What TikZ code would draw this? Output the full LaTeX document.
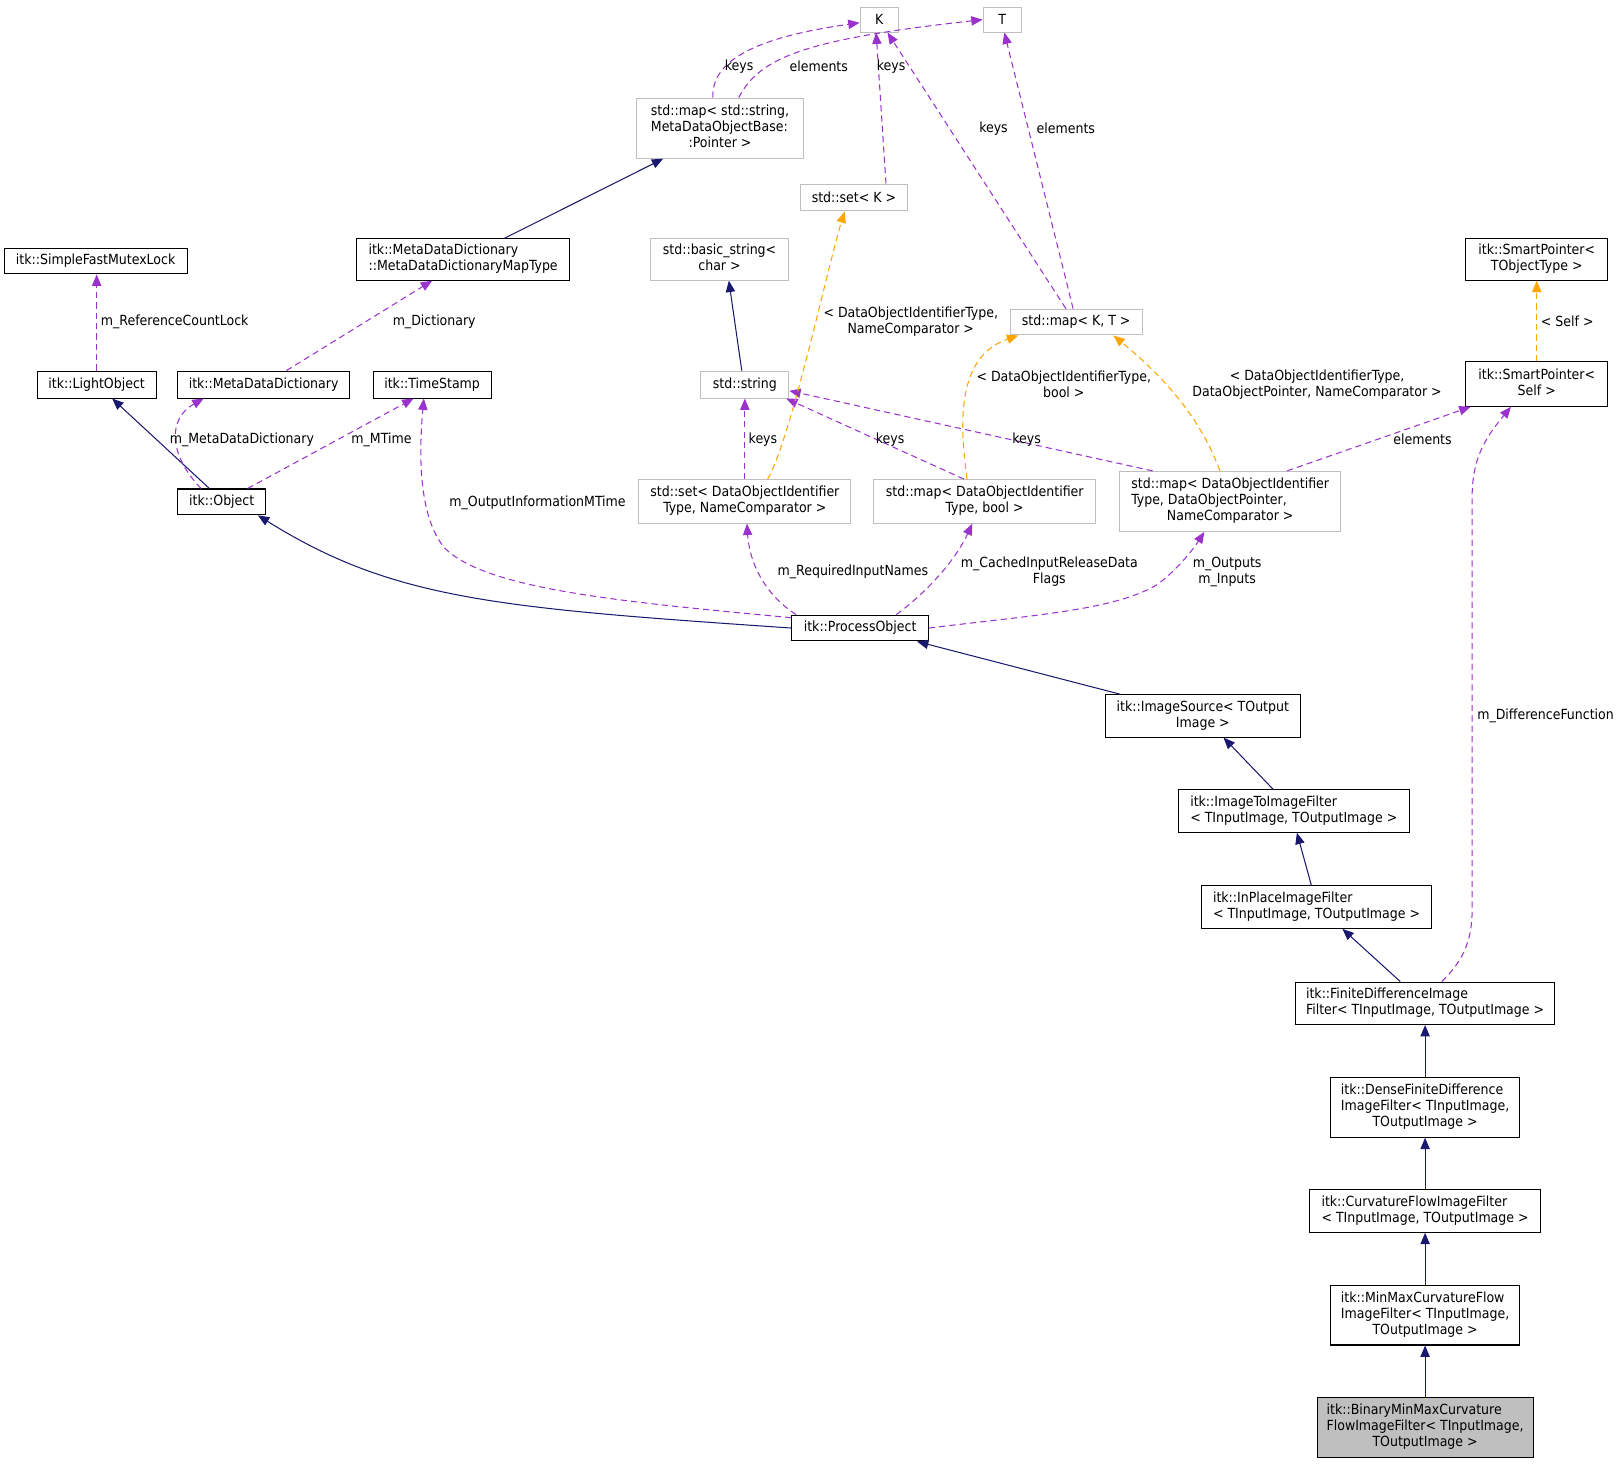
\documentclass[tikz,border=0pt]{standalone}
\usepackage{fontspec}
\setmainfont{DejaVu Sans Condensed}
\usetikzlibrary{arrows.meta}
\definecolor{usecol}{HTML}{9A32CD}
\definecolor{tplcol}{HTML}{FFA500}
\definecolor{inhcol}{HTML}{191970}
\definecolor{grayb}{HTML}{BFBFBF}
\definecolor{selfill}{HTML}{BFBFBF}
\newcommand\twol[2]{\begin{tabular}{@{}l@{}}#1\\\multicolumn{1}{@{}c@{}}{#2}\end{tabular}}
\begin{document}
\begin{tikzpicture}[x=1pt,y=-1pt,
  every node/.style={font=\fontsize{13.5}{15.5}\selectfont, inner sep=0pt},
  sz/.style 2 args={minimum width=#1pt, minimum height=#2pt},
  box/.style={draw=black, line width=1pt, fill=white},
  gbox/.style={draw=grayb, line width=1pt, fill=white},
  selbox/.style={draw=black, line width=1pt, fill=selfill},
  lbl/.style={align=center},
  inh/.style={draw=inhcol, line width=1pt, -{Triangle[length=11pt,width=9pt]}},
  use/.style={draw=usecol, line width=1pt, dash pattern=on 6pt off 4pt, -{Triangle[length=11pt,width=9pt]}},
  tpl/.style={draw=tplcol, line width=1pt, dash pattern=on 6pt off 4pt, -{Triangle[length=11pt,width=9pt]}},
]
\useasboundingbox (0,0) rectangle (1568,1416);
\fill[white] (0,0) rectangle (1568,1416);

% nodes
\node[gbox, sz={37}{24}] (K) at (850.5,19) {K};
\node[gbox, sz={37}{24}] (T) at (969.5,19) {T};
\node[gbox, sz={161}{58}] (smapstr) at (696.5,124) {\twol{std::map< std::string,\\MetaDataObjectBase:}{:Pointer >}};
\node[gbox, sz={104}{26}] (setK) at (826,191) {std::set< K >};
\node[box, sz={177}{25}] (sfml) at (92.5,252.5) {itk::SimpleFastMutexLock};
\node[box, sz={206}{40}] (mddmt) at (448,251) {\twol{itk::MetaDataDictionary}{::MetaDataDictionaryMapType}};
\node[gbox, sz={134}{40}] (basicstr) at (696,251) {\twol{std::basic\_string<}{char >}};
\node[box, sz={137}{40}] (spTO) at (1486.5,251) {\twol{itk::SmartPointer<}{TObjectType >}};
\node[gbox, sz={128}{25}] (mapKT) at (1041,311.5) {std::map< K, T >};
\node[box, sz={115}{26}] (lightobj) at (93.5,372) {itk::LightObject};
\node[box, sz={166}{26}] (mdd) at (255,372) {itk::MetaDataDictionary};
\node[box, sz={114}{26}] (timestamp) at (418,372) {itk::TimeStamp};
\node[gbox, sz={85}{26}] (string) at (720.5,372) {std::string};
\node[box, sz={137}{43}] (spSelf) at (1486.5,371.5) {\twol{itk::SmartPointer<}{Self >}};
\node[box, sz={85}{25}] (object) at (214.5,485.5) {itk::Object};
\node[gbox, sz={205}{42}] (setDOI) at (720.5,485) {\twol{std::set< DataObjectIdentifier}{Type, NameComparator >}};
\node[gbox, sz={215}{42}] (mapDOIbool) at (952.5,485) {\twol{std::map< DataObjectIdentifier}{Type, bool >}};
\node[gbox, sz={214}{58}] (mapDOIptr) at (1190,485) {\twol{std::map< DataObjectIdentifier\\Type, DataObjectPointer,}{NameComparator >}};
\node[box, sz={132}{25}] (procobj) at (832,607.5) {itk::ProcessObject};
\node[box, sz={189}{41}] (imgsrc) at (1163.5,692.5) {\twol{itk::ImageSource< TOutput}{Image >}};
\node[box, sz={223}{41}] (i2i) at (1251.5,784.5) {\twol{itk::ImageToImageFilter}{< TInputImage, TOutputImage >}};
\node[box, sz={223}{41}] (inplace) at (1273.5,877.5) {\twol{itk::InPlaceImageFilter}{< TInputImage, TOutputImage >}};
\node[box, sz={251}{41}] (fdif) at (1378.5,970.5) {\twol{itk::FiniteDifferenceImage}{Filter< TInputImage, TOutputImage >}};
\node[box, sz={183}{58}] (dense) at (1378.5,1071) {\twol{itk::DenseFiniteDifference\\ImageFilter< TInputImage,}{TOutputImage >}};
\node[box, sz={223}{41}] (curv) at (1378.5,1171.5) {\twol{itk::CurvatureFlowImageFilter}{< TInputImage, TOutputImage >}};
\node[box, sz={183}{58}] (minmax) at (1378.5,1272) {\twol{itk::MinMaxCurvatureFlow\\ImageFilter< TInputImage,}{TOutputImage >}};
\node[selbox, sz={209}{58}] (binary) at (1378.5,1381) {\twol{itk::BinaryMinMaxCurvature\\FlowImageFilter< TInputImage,}{TOutputImage >}};

% edges: usage / template / inheritance
\draw[use] ([xshift=-7pt]smapstr.north) .. controls (688,55) and (740,35) .. ([yshift=-3pt]K.west);
\draw[use] ([xshift=18pt]smapstr.north) .. controls (735,55) and (780,38) .. (T.west);
\draw[use] ([xshift=31pt]setK.north) -- ([xshift=-3pt]K.south);
\draw[use] ([xshift=-10pt]mapKT.north) -- ([xshift=8pt]K.south);
\draw[use] ([xshift=-3pt]mapKT.north) -- ([xshift=2pt]T.south);
\draw[inh] ([xshift=40pt]mddmt.north) -- ([xshift=-55pt]smapstr.south);
\draw[inh] ([xshift=-3pt]string.north) -- ([xshift=9pt]basicstr.south);
\draw[tpl] (spSelf.north) -- (spTO.south);
\draw[use] (lightobj.north) -- (lightobj.north |- sfml.south);
\draw[use] ([xshift=22pt]mdd.north) -- ([xshift=-30pt]mddmt.south);
\draw[inh] ([xshift=-12pt]object.north) -- ([xshift=15pt]lightobj.south);
\draw[use] ([xshift=-20pt]object.north) .. controls (163,440) and (162,405) .. ([xshift=-58pt]mdd.south);
\draw[use] ([xshift=25pt]object.north) -- ([xshift=-18pt]timestamp.south);
\draw[inh] (procobj.west) .. controls (480,588) and (380,580) .. ([xshift=35pt]object.south);
\draw[use] ([yshift=-3pt]procobj.north west) .. controls (600,582) and (470,570) .. (430,530) .. controls (405,500) and (405,440) .. ([xshift=-8pt]timestamp.south);
\draw[use] ([xshift=-62pt]procobj.north) .. controls (740,575) and (725,545) .. ([xshift=2pt]setDOI.south);
\draw[use] ([xshift=35pt]procobj.north) .. controls (900,570) and (925,540) .. ([xshift=-12pt]mapDOIbool.south);
\draw[use] (procobj.east) .. controls (1000,595) and (1080,590) .. (1120,565) .. controls (1140,550) and (1155,530) .. ([xshift=-25pt]mapDOIptr.south);
\draw[use] (setDOI.north) -- (string.south);
\draw[use] ([xshift=-20pt]mapDOIbool.north) -- ([xshift=40pt]string.south);
\draw[use] ([xshift=-75pt]mapDOIptr.north) -- ([yshift=-6pt]string.east);
\draw[use] ([xshift=55pt]mapDOIptr.north) -- ([xshift=5pt]spSelf.south west);
\draw[tpl] ([xshift=22pt]setDOI.north) .. controls (765,425) and (800,260) .. ([xshift=-9pt]setK.south);
\draw[tpl] ([xshift=-17pt]mapDOIbool.north) .. controls (928,410) and (925,345) .. ([xshift=-56pt]mapKT.south);
\draw[tpl] ([xshift=-10pt]mapDOIptr.north) .. controls (1160,400) and (1120,360) .. ([xshift=36pt]mapKT.south);
\draw[inh] ([xshift=-80pt]imgsrc.north) -- ([xshift=55pt]procobj.south);
\draw[inh] ([xshift=-20pt]i2i.north) -- ([xshift=20pt]imgsrc.south);
\draw[inh] ([xshift=-5pt]inplace.north) -- ([xshift=3pt]i2i.south);
\draw[inh] ([xshift=-24pt]fdif.north) -- ([xshift=25pt]inplace.south);
\draw[use] ([xshift=16pt]fdif.north) .. controls (1415,930) and (1424,910) .. (1424,880) -- (1424,480) .. controls (1424,440) and (1440,420) .. ([xshift=-25pt]spSelf.south);
\draw[inh] (dense.north) -- (fdif.south);
\draw[inh] (curv.north) -- (dense.south);
\draw[inh] (minmax.north) -- (curv.south);
\draw[inh] (binary.north) -- (minmax.south);

% edge labels
\node[lbl] (l1) at (715,64) {keys};
\node[lbl] (l2) at (792,64) {elements};
\node[lbl] (l3) at (862,64) {keys};
\node[lbl] (l4) at (961,124) {keys};
\node[lbl] (l5) at (1031,124) {elements};
\node[lbl] (l6) at (169,311) {m\_ReferenceCountLock};
\node[lbl] (l7) at (420,311) {m\_Dictionary};
\node[lbl] (l8) at (881,311) {< DataObjectIdentifierType,\\NameComparator >};
\node[lbl] (l9) at (1516,311) {< Self >};
\node[lbl] (l10) at (1029,372) {< DataObjectIdentifierType,\\bool >};
\node[lbl] (l11) at (1274,372) {< DataObjectIdentifierType,\\DataObjectPointer, NameComparator >};
\node[lbl] (l12) at (234,425) {m\_MetaDataDictionary};
\node[lbl] (l13) at (369,425) {m\_MTime};
\node[lbl] (l14) at (738,425) {keys};
\node[lbl] (l15) at (861,425) {keys};
\node[lbl] (l16) at (993,425) {keys};
\node[lbl] (l17) at (1376,425) {elements};
\node[lbl] (l18) at (520,486) {m\_OutputInformationMTime};
\node[lbl] (l19) at (825,553) {m\_RequiredInputNames};
\node[lbl] (l20) at (1015,553) {m\_CachedInputReleaseData\\Flags};
\node[lbl] (l21) at (1187,553) {m\_Outputs\\m\_Inputs};
\node[lbl] (l22) at (1495,692) {m\_DifferenceFunction};
\end{tikzpicture}
\end{document}
